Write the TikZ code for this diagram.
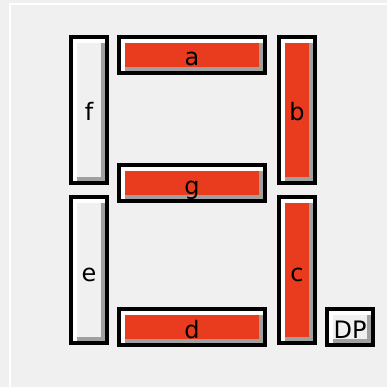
\documentclass[tikz,border=0pt]{standalone}
\usepackage{fontspec}
\setmainfont{DejaVu Sans}
\usepackage{xcolor}
\usepackage{tikz}
\usetikzlibrary{calc}

\definecolor{segon}{RGB}{233,60,30}
\definecolor{segoff}{RGB}{240,240,240}
\definecolor{bevelgray}{RGB}{160,160,160}

\begin{document}
\begin{tikzpicture}[
  x=1pt, y=1pt,
  seg/.style={draw=black, line width=4pt, inner sep=0pt, outer sep=0pt,
    text height=22pt, text depth=0pt, font=\fontsize{24}{24}\selectfont,
    path picture={
      \fill[white] ($(path picture bounding box.south west)+(2pt,2pt)$) rectangle ($(path picture bounding box.north east)+(-2pt,-2pt)$);
      \fill[bevelgray] ($(path picture bounding box.south west)+(6pt,2pt)$) rectangle ($(path picture bounding box.north east)+(-2pt,-6pt)$);
      \fill[#1] ($(path picture bounding box.south west)+(6pt,6pt)$) rectangle ($(path picture bounding box.north east)+(-6pt,-6pt)$);
    }},
  horiz/.style={minimum width=146pt, minimum height=36pt},
  vert/.style={minimum width=36pt, minimum height=146pt}
]
\useasboundingbox (0,0) rectangle (387,-387);
\fill[segoff] (0,0) rectangle (387,-387);
\draw[white, line width=2pt] (10,-387) -- (10,-4) -- (387,-4);

% segments
\node[seg=segon, horiz] (a) at (192,-55) {a};
\node[seg=segon, horiz] (g) at (192,-183) {g};
\node[seg=segon, horiz] (d) at (192,-327) {d};
\node[seg=segoff, vert] (f) at (89,-110) {f};
\node[seg=segoff, vert] (e) at (89,-270) {e};
\node[seg=segon, vert] (b) at (297,-110) {b};
\node[seg=segon, vert] (c) at (297,-270) {c};
\node[seg=segoff, minimum width=46pt, minimum height=36pt] (dp) at (350,-327) {DP};
\end{tikzpicture}
\end{document}
